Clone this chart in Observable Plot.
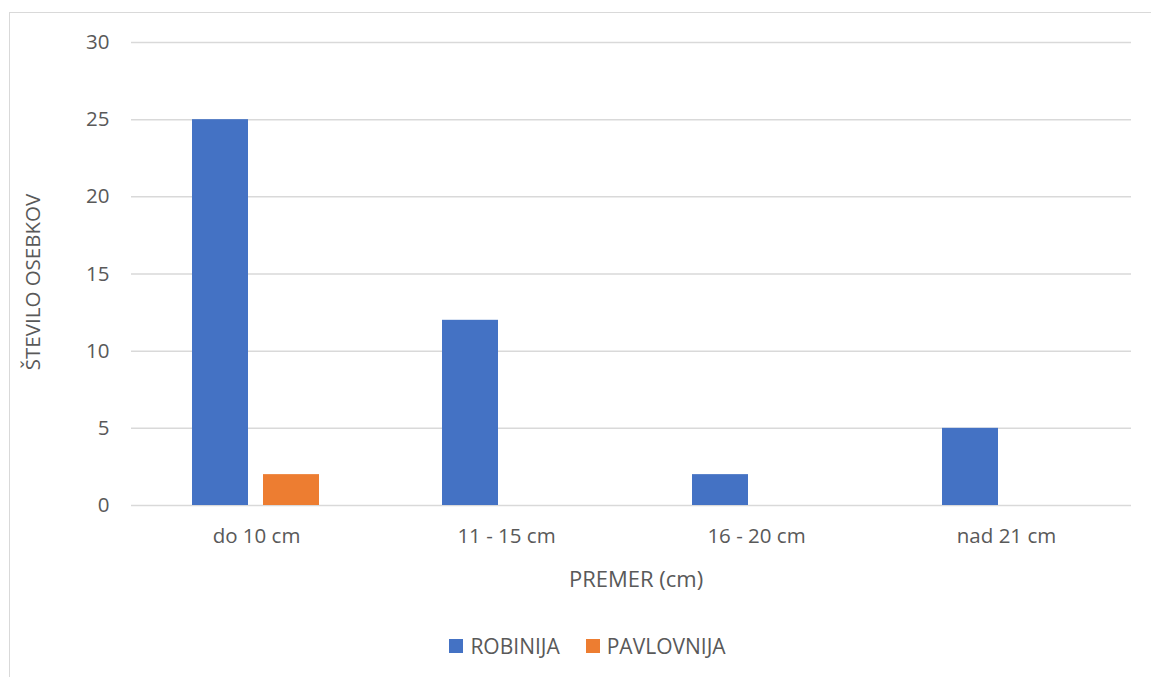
<!DOCTYPE html>
<html>
<head>
<meta charset="utf-8">
<script src="https://cdn.jsdelivr.net/npm/d3@7"></script>
<script src="https://cdn.jsdelivr.net/npm/@observablehq/plot@0.6"></script>
<style>
  html, body { margin: 0; padding: 0; background: #fff; }
  #wrap { position: relative; width: 1151px; height: 677px; overflow: hidden; font-family: "Open Sans", sans-serif; }
  #frame { position: absolute; left: 9px; top: 12px; width: 1200px; height: 700px; border-left: 1.5px solid #d9d9d9; border-top: 1.5px solid #d9d9d9; box-sizing: border-box; }
  #chart { position: absolute; left: 0; top: 0; }
  #legend { position: absolute; top: 631px; left: 12px; width: 1151px; display: flex; justify-content: center; gap: 26px; font-size: 21px; line-height: 30px; color: #595959; }
  #legend .item { display: flex; align-items: center; gap: 7px; }
  #legend .sw { width: 14px; height: 14px; display: inline-block; }
</style>
</head>
<body>
<div id="wrap">
  <div id="frame"></div>
  <div id="chart"></div>
  <div id="legend"></div>
</div>
<script>
const categories = ["do 10 cm", "11 - 15 cm", "16 - 20 cm", "nad 21 cm"];
const series = ["ROBINIJA", "PAVLOVNIJA"];
const robinija = [25, 12, 2, 5];
const pavlovnija = [2, 0, 0, 0];
const yTicks = [0, 5, 10, 15, 20, 25, 30];
const colors = ["#4472C4", "#ED7D31"];
const xTitle = "PREMER (cm)";
const yTitle = "ŠTEVILO OSEBKOV";

const data = categories.flatMap((c, i) => [
  {cat: c, s: series[0], v: robinija[i]},
  {cat: c, s: series[1], v: pavlovnija[i]}
]);

const chart = Plot.plot({
  width: 1151,
  height: 600,
  marginLeft: 130,
  marginRight: 19,
  marginTop: 42,
  marginBottom: 95,
  style: {fontFamily: "'Open Sans', sans-serif", fontSize: "20.5px", color: "#595959", background: "transparent"},
  fx: {domain: categories, padding: 0, label: null, tickSize: 0, tickPadding: 23},
  x: {domain: series, paddingInner: 0.21, paddingOuter: 0.85, axis: null},
  y: {domain: [0, 30], ticks: yTicks, tickSize: 0, tickPadding: 22, label: null},
  color: {domain: series, range: colors},
  marks: [
    Plot.gridY(yTicks, {stroke: "#d9d9d9", strokeOpacity: 1, strokeWidth: 1.5}),
    Plot.barY(data, {fx: "cat", x: "s", y: "v", fill: "s"}),
    Plot.text([yTitle], {fx: [categories[0]], text: d => d, frameAnchor: "left", textAnchor: "middle", dx: -98, dy: 8, rotate: -90, fontSize: 20.5, fill: "#595959"}),
    Plot.text([xTitle], {fx: [categories[1]], text: d => d, frameAnchor: "bottom-right", textAnchor: "middle", dx: 4.5, dy: 81, fontSize: 22, fill: "#595959"})
  ]
});
document.getElementById("chart").appendChild(chart);

const legend = document.getElementById("legend");
series.forEach((s, i) => {
  const item = document.createElement("div");
  item.className = "item";
  const sw = document.createElement("span");
  sw.className = "sw";
  sw.style.background = colors[i];
  const t = document.createElement("span");
  t.textContent = s;
  item.appendChild(sw);
  item.appendChild(t);
  legend.appendChild(item);
});
</script>
</body>
</html>
